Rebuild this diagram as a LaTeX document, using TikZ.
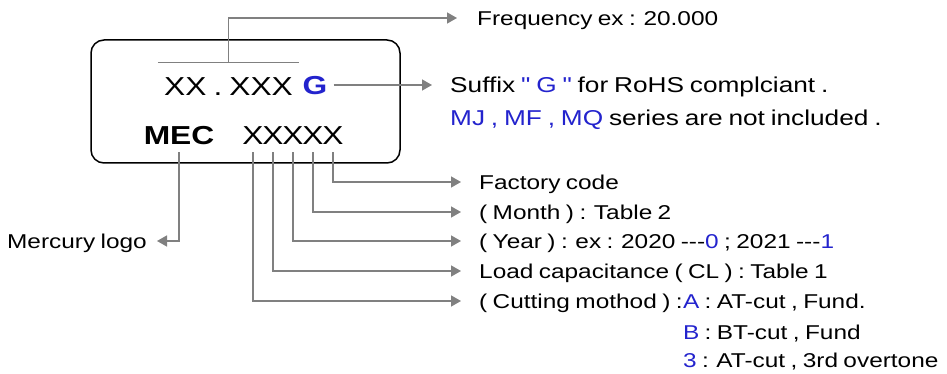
\documentclass[tikz,border=0pt]{standalone}
\usepackage{fontspec}
\setmainfont{Liberation Sans}[FakeStretch=1.22,WordSpace=0.8,Ligatures=TeXOff]
\usepackage{tikz}
\usetikzlibrary{arrows.meta}

\definecolor{mecblue}{RGB}{35,35,205}
\definecolor{leadgray}{RGB}{128,128,128}

\begin{document}
\begin{tikzpicture}[x=1pt, y=-1pt]

% Keep the size of the reference
\useasboundingbox (0,0) rectangle (947,374);

% Define styles for the chip, its marking and the notes
\tikzstyle{chip} = [draw=black, line width=1.5pt, rounded corners=13pt, minimum width=309pt, minimum height=123pt]
\tikzstyle{marking} = [inner sep=0pt, text height=18.5pt, text depth=0pt, font=\fontsize{26}{30}\selectfont]
\tikzstyle{note} = [anchor=west, inner sep=0pt, text height=14.5pt, text depth=0pt, font=\fontsize{20}{24}\selectfont]
\tikzstyle{bignote} = [note, text height=15pt, font=\fontsize{21.5}{26}\selectfont]

%Lineas grises con punta de flecha triangular
\tikzstyle{lead} = [draw=leadgray, line width=1.5pt, shorten >=18pt, -{Triangle[length=10pt,width=11pt]}]

\node[chip] (chip) at (245.5,101.5) {};

% Marking on the chip
\node[marking, inner xsep=6pt, inner ysep=14pt] (freqcode) at (228.5,86) {XX . XXX};
\node[marking, text=mecblue] (suffixg) at (315,85) {\bfseries G};
\node[marking] (mec) at (179,135) {\bfseries MEC};
\foreach \i/\x in {1/253,2/273,3/293,4/313,5/333}
    \node[marking] (x\i) at (\x,135) {X};

\draw[line width=1.2pt, leadgray] (freqcode.north west) -- (freqcode.north east);

% Notes
\node[note] (freq) at (477,18) {Frequency ex : 20.000};
\node[bignote] (suffix) at (450,85) {Suffix \textcolor{mecblue}{" G "} for RoHS complciant .};
\node[bignote] (series) at (450,118) {\textcolor{mecblue}{MJ , MF , MQ} series are not included .};
\node[note] (factory) at (479,182) {Factory code};
\node[note] (month) at (479,212) {( Month ) : Table 2};
\node[note] (year) at (479,241) {( Year ) : ex : 2020 ---\textcolor{mecblue}{0} ; 2021 ---\textcolor{mecblue}{1}};
\node[note] (load) at (479,271) {Load capacitance ( CL ) : Table 1};
\node[note] (cut) at (479,301) {( Cutting mothod ) :};
\node[note] (typeA) at (cut.east) {\textcolor{mecblue}{A} : AT-cut , Fund.};
\node[note] (typeB) at ([yshift=-31pt]typeA.west) {\textcolor{mecblue}{B} : BT-cut , Fund};
\node[note] (type3) at ([yshift=-59pt]typeA.west) {\textcolor{mecblue}{3} : AT-cut , 3rd overtone};
\node[note, anchor=east] (logo) at (147,241) {Mercury logo};

% Leads from the marking
\draw[lead, shorten >=20pt] (freqcode.north) |- (freq.west);
\draw[lead, shorten <=6pt] (suffixg.east) -- (suffix.west);
\draw[lead, shorten <=8pt, shorten >=10pt] (mec.south) |- (logo.east);
\draw[lead, shorten <=8pt] (x5.south) |- (factory.west);
\draw[lead, shorten <=8pt] (x4.south) |- (month.west);
\draw[lead, shorten <=8pt] (x3.south) |- (year.west);
\draw[lead, shorten <=8pt] (x2.south) |- (load.west);
\draw[lead, shorten <=8pt] (x1.south) |- (cut.west);

\end{tikzpicture}
\end{document}
